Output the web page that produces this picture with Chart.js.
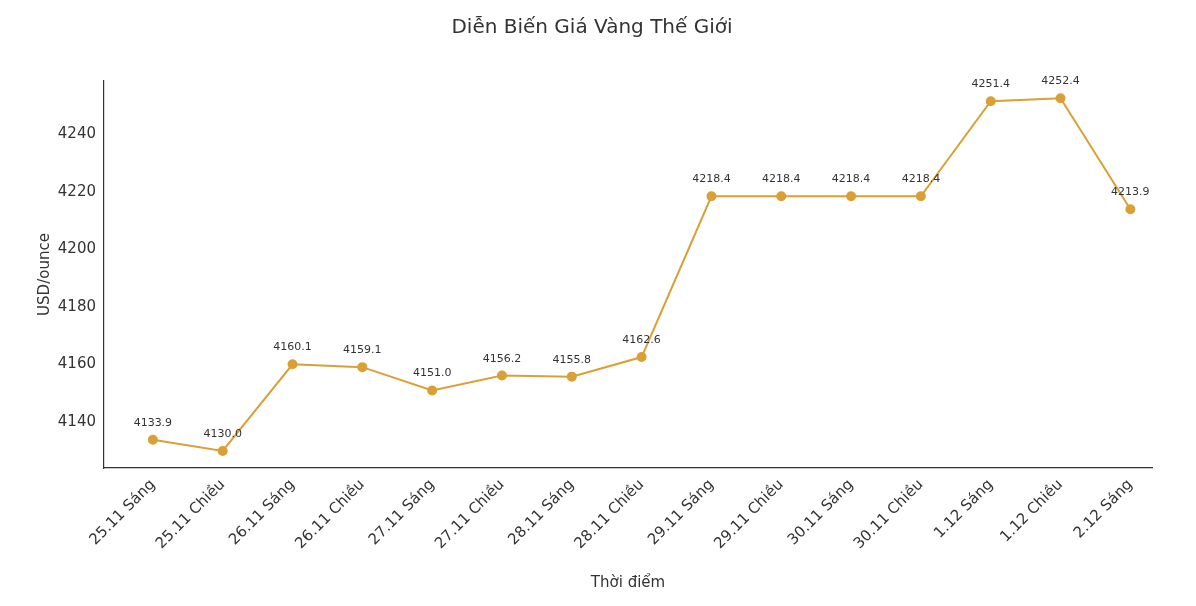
<!DOCTYPE html>
<html><head><meta charset="utf-8">
<script src="https://cdn.jsdelivr.net/npm/chart.js@4/dist/chart.umd.min.js"></script>
<style>html,body{margin:0;padding:0;background:#fff}#wrap{width:1196px;height:606px}</style>
</head><body><div id="wrap"><canvas id="c"></canvas></div>
<script>
const categories = ["25.11 Sáng","25.11 Chiều","26.11 Sáng","26.11 Chiều","27.11 Sáng","27.11 Chiều","28.11 Sáng","28.11 Chiều","29.11 Sáng","29.11 Chiều","30.11 Sáng","30.11 Chiều","1.12 Sáng","1.12 Chiều","2.12 Sáng"];
const prices = [4133.9,4130.0,4160.1,4159.1,4151.0,4156.2,4155.8,4162.6,4218.4,4218.4,4218.4,4218.4,4251.4,4252.4,4213.9];
const yTicks = [4140,4160,4180,4200,4220,4240];
const color = '#DAA035';
const FONT = 'DejaVu Sans';

const labelPlugin = {
  id:'lbl',
  afterDatasetsDraw(chart){
    const ctx = chart.ctx, meta = chart.getDatasetMeta(0);
    ctx.save(); ctx.font = '11px "'+FONT+'"'; ctx.fillStyle='#333'; ctx.textAlign='center'; ctx.textBaseline='alphabetic';
    meta.data.forEach((p,i)=>{ ctx.fillText(prices[i].toFixed(1), p.x, p.y-14); });
    ctx.restore();
  }
};

new Chart(document.getElementById('c'), {
  type:'line',
  data:{ datasets:[{ data: prices.map((v,i)=>({x:i,y:v})), borderColor:color, backgroundColor:color, borderWidth:2, pointRadius:4, pointHoverRadius:4, tension:0 }]},
  options:{
    responsive:true, maintainAspectRatio:false, animation:false,
    layout:{ padding:{ left:32, right:44, top:0, bottom:10 } },
    plugins:{ legend:{display:false}, tooltip:{enabled:false},
      title:{ display:true, text:'Diễn Biến Giá Vàng Thế Giới', color:'#333', font:{family:FONT,size:20,weight:'normal'}, padding:{top:16,bottom:41} } },
    scales:{
      x:{ type:'linear', min:-0.7, max:14.31,
        grid:{ display:false, drawTicks:true, tickLength:5, tickColor:'#333' },
        border:{ color:'#333', width:1.2 },
        afterBuildTicks(s){ s.ticks = categories.map((_,i)=>({value:i})); },
        afterFit(s){ s.height = 128; },
        ticks:{ callback:(v)=>categories[v], autoSkip:false, maxRotation:45, minRotation:45, color:'#333', font:{family:FONT,size:15} },
        title:{ display:true, text:'Thời điểm', color:'#333', font:{family:FONT,size:15}, padding:{top:0} } },
      y:{ min:4124.1, max:4258.4,
        afterBuildTicks(s){ s.ticks = yTicks.map(v=>({value:v})); },
        afterFit(s){ s.width = 72; },
        grid:{ display:false, drawTicks:true, tickLength:5, tickColor:'#333' },
        border:{ color:'#333', width:1.2 },
        ticks:{ color:'#333', font:{family:FONT,size:15}, callback:(v)=>String(v) },
        title:{ display:true, text:'USD/ounce', color:'#333', font:{family:FONT,size:15} } }
    }
  },
  plugins:[labelPlugin]
});
</script></body></html>
